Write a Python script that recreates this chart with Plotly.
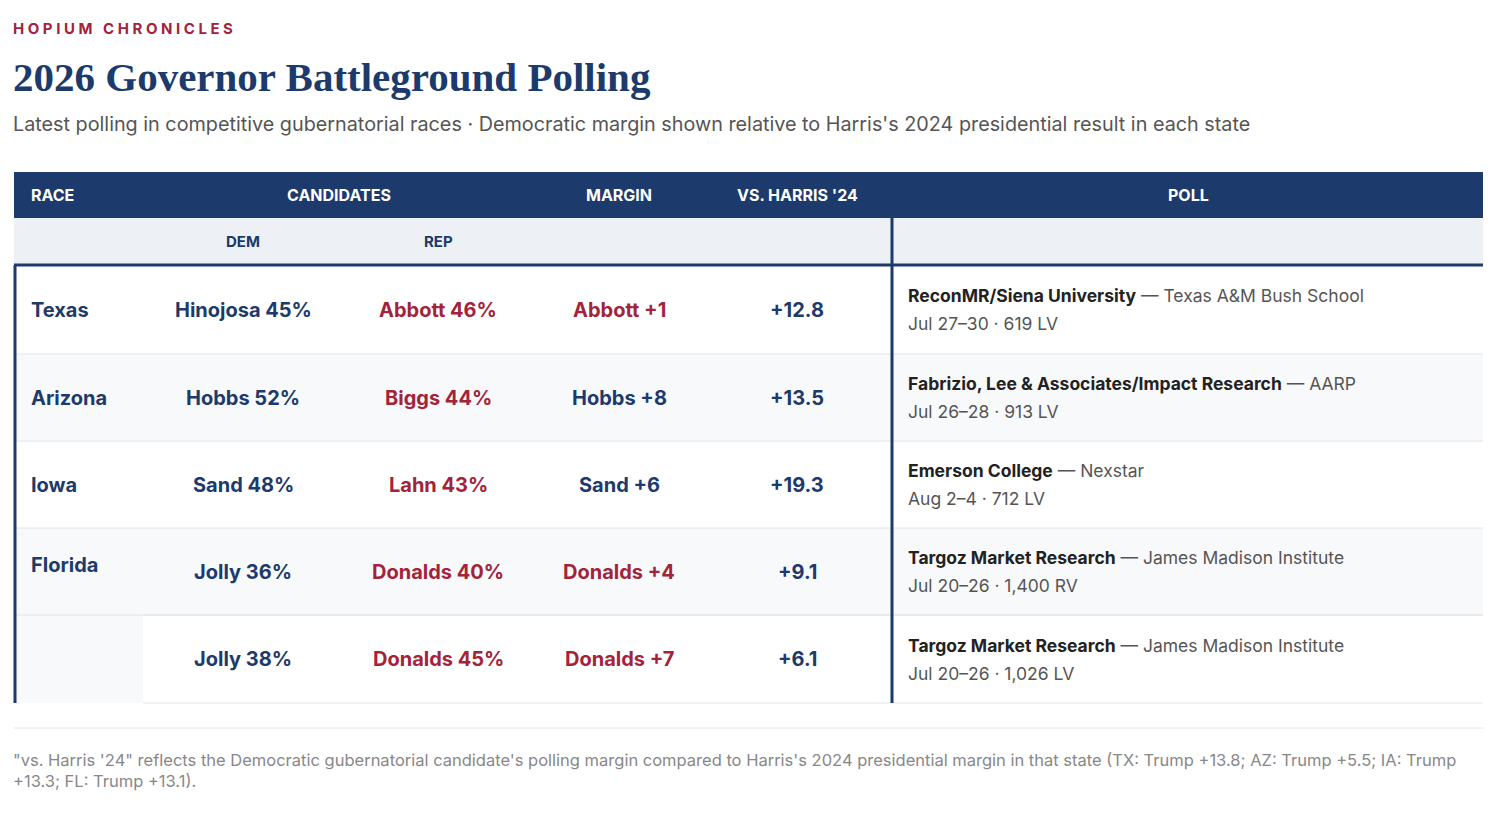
import plotly.graph_objects as go

races = ["Texas", "Arizona", "Iowa", "Florida", ""]
dem = ["Hinojosa 45%", "Hobbs 52%", "Sand 48%", "Jolly 36%", "Jolly 38%"]
rep = ["Abbott 46%", "Biggs 44%", "Lahn 43%", "Donalds 40%", "Donalds 45%"]
margin = ["Abbott +1", "Hobbs +8", "Sand +6", "Donalds +4", "Donalds +7"]
margin_party = ["R", "D", "D", "R", "R"]
vs_harris = ["+12.8", "+13.5", "+19.3", "+9.1", "+6.1"]
pollster = ["ReconMR/Siena University", "Fabrizio, Lee & Associates/Impact Research",
            "Emerson College", "Targoz Market Research", "Targoz Market Research"]
sponsor = ["Texas A&M Bush School", "AARP", "Nexstar", "James Madison Institute", "James Madison Institute"]
dates = ["Jul 27–30 · 619 LV", "Jul 26–28 · 913 LV", "Aug 2–4 · 712 LV",
         "Jul 20–26 · 1,400 RV", "Jul 20–26 · 1,026 LV"]

NAVY = "#1c3a6b"
RED = "#a3233a"
GREY = "#555555"
LIGHT = "#f8f9fb"
SUB = "#edf1f6"
LINE = "#e2e4e8"
F = "Inter"

row_top = [265, 354, 441, 528, 615]
row_h = [89, 87, 87, 87, 88]

fig = go.Figure()
shapes = []
ann = []

def rect(x0, y0, x1, y1, c):
    shapes.append(dict(type="rect", x0=x0, y0=y0, x1=x1, y1=y1, fillcolor=c, line_width=0, layer="below"))

def line(x0, y0, x1, y1, c, w):
    shapes.append(dict(type="line", x0=x0, y0=y0, x1=x1, y1=y1, line=dict(color=c, width=w)))

def txt(x, y, s, size, color, anchor="center", bold=False, family=F):
    if bold:
        s = "<b>" + s + "</b>"
    if anchor == "left":
        x -= 2
    ann.append(dict(x=x, y=y, text=s, showarrow=False, xanchor=anchor, yanchor="middle",
                    font=dict(family=family, size=size, color=color)))

# header
rect(14, 172, 1483, 218, NAVY)
rect(14, 218, 1483, 265, SUB)
for i, (t, h) in enumerate(zip(row_top, row_h)):
    if i in (1, 3):
        rect(14, t, 1483, t + h, LIGHT)
rect(14, 528, 143, 703, LIGHT)
for i, (t, h) in enumerate(zip(row_top, row_h)):
    x0 = 143 if i == 4 else 14
    line(x0, t + h, 1483, t + h, LINE, 1)
line(143, 615, 1483, 615, LINE, 1)
line(14, 265, 1483, 265, NAVY, 3)
line(15, 265, 15, 703, NAVY, 3)
line(892, 218, 892, 703, NAVY, 3)
line(14, 728, 1483, 728, LINE, 1)

for s, x, a in [("RACE", 31, "left"), ("CANDIDATES", 339, "center"), ("MARGIN", 619, "center"),
                ("VS. HARRIS '24", 797, "center"), ("POLL", 1188, "center")]:
    txt(x, 195, s, 16, "white", a, True)
txt(243, 241, "DEM", 15, NAVY, bold=True)
txt(438, 241, "REP", 15, NAVY, bold=True)

for i, t in enumerate(row_top):
    cy = t + row_h[i] / 2
    if races[i]:
        ry = 565 if races[i] == "Florida" else cy
        txt(31, ry, races[i], 20, NAVY, "left", True)
    txt(243, cy, dem[i], 20, NAVY, bold=True)
    txt(438, cy, rep[i], 20, RED, bold=True)
    txt(619, cy, margin[i], 20, RED if margin_party[i] == "R" else NAVY, bold=True)
    txt(797, cy, vs_harris[i], 20, NAVY, bold=True)
    txt(908, cy - 14, "<b>" + pollster[i] + "</b><span style='color:%s'> — %s</span>" % (GREY, sponsor[i]),
        17.5, "#222222", "left")
    txt(908, cy + 14, dates[i], 17.5, GREY, "left")

txt(13, 28, "", 15, RED, "left")
ann[-1]["text"] = "<b>H O P I U M   C H R O N I C L E S</b>"
txt(13, 77, "2026 Governor Battleground Polling", 41, NAVY, "left", True, "Liberation Serif")
txt(13, 124, "Latest polling in competitive gubernatorial races · Democratic margin shown relative to Harris's 2024 presidential result in each state",
    19.8, GREY, "left")
txt(13, 770, "\"vs. Harris '24\" reflects the Democratic gubernatorial candidate's polling margin compared to Harris's 2024 presidential margin in that state (TX: Trump +13.8; AZ: Trump +5.5; IA: Trump"
    "<br>+13.3; FL: Trump +13.1).", 16.5, "#888888", "left")
ann[-1]["align"] = "left"

fig.update_layout(
    width=1506, height=816, margin=dict(l=0, r=0, t=0, b=0),
    paper_bgcolor="white", plot_bgcolor="white",
    xaxis=dict(range=[8, 1514], visible=False, fixedrange=True),
    yaxis=dict(range=[824, 8], visible=False, fixedrange=True),
    shapes=shapes, annotations=ann, showlegend=False,
)
fig.write_html("out.html")
